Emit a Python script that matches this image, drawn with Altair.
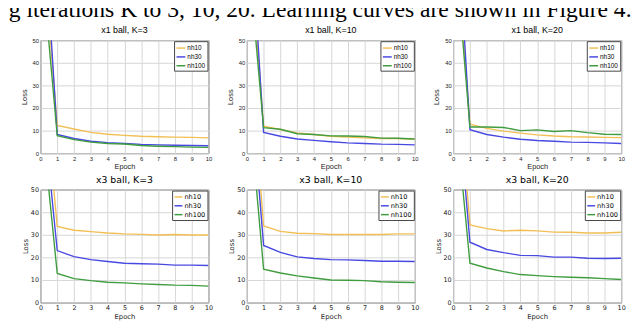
import altair as alt
import pandas as pd

epochs = [0, 1, 2, 3, 4, 5, 6, 7, 8, 9, 10]
series = ["nh10", "nh30", "nh100"]
colors = ["#f2bf55", "#4848e2", "#3f9c3f"]

# x1 ball
x1_k3 = {
    "nh10": [106, 12.3, 10.7, 9.2, 8.4, 7.9, 7.5, 7.3, 7.1, 7.0, 6.8],
    "nh30": [127, 8.3, 6.5, 5.3, 4.7, 4.3, 3.9, 3.7, 3.5, 3.4, 3.3],
    "nh100": [91, 7.8, 6.0, 4.9, 4.3, 4.1, 3.4, 3.1, 2.9, 2.7, 2.6],
}
x1_k10 = {
    "nh10": [110, 12.0, 10.5, 9.0, 8.3, 7.5, 7.2, 6.8, 6.5, 6.5, 6.1],
    "nh30": [129, 9.2, 7.5, 6.3, 5.7, 5.1, 4.6, 4.3, 4.0, 3.9, 3.7],
    "nh100": [95, 11.3, 10.6, 8.6, 8.3, 7.7, 7.6, 7.4, 6.7, 6.6, 6.3],
}
x1_k20 = {
    "nh10": [110, 12.8, 11.0, 9.8, 8.9, 8.1, 7.6, 7.3, 7.2, 7.0, 6.9],
    "nh30": [134, 10.4, 8.3, 7.1, 6.2, 5.6, 5.3, 4.9, 4.8, 4.6, 4.3],
    "nh100": [101, 11.6, 11.6, 11.4, 10.0, 10.3, 9.6, 10.0, 9.1, 8.4, 8.3],
}
# x3 ball
x3_k3 = {
    "nh10": [115, 33.7, 32.0, 31.4, 30.8, 30.4, 30.2, 29.9, 30.1, 29.9, 29.9],
    "nh30": [98, 23.0, 20.3, 19.0, 18.2, 17.4, 17.2, 17.0, 16.6, 16.6, 16.4],
    "nh100": [87, 12.9, 10.6, 9.7, 9.0, 8.7, 8.3, 8.0, 7.7, 7.6, 7.3],
}
x3_k10 = {
    "nh10": [129, 33.9, 31.5, 30.7, 30.5, 30.1, 30.1, 30.1, 30.1, 30.4, 30.4],
    "nh30": [117, 25.3, 22.2, 20.2, 19.5, 19.0, 18.9, 18.6, 18.3, 18.3, 18.2],
    "nh100": [99, 14.8, 13.1, 11.8, 10.9, 10.0, 9.9, 9.7, 9.2, 9.0, 8.9],
}
x3_k20 = {
    "nh10": [126, 34.4, 32.7, 31.7, 32.0, 31.7, 31.2, 31.1, 30.8, 30.8, 31.1],
    "nh30": [113, 26.7, 23.5, 22.1, 20.9, 20.8, 20.1, 20.1, 19.6, 19.5, 19.6],
    "nh100": [95, 17.4, 15.3, 13.7, 12.4, 11.9, 11.5, 11.2, 11.0, 10.6, 10.2],
}

x_ticks = [0, 1, 2, 3, 4, 5, 6, 7, 8, 9, 10]
y_ticks = [0, 10, 20, 30, 40, 50]

top_style = dict(font="Liberation Sans", title_size=9, label_size=6,
                 axis_title_size=7.5, legend_size=6.5, sym=81,
                 y_title_pad=4, x_title_pad=2)
bot_style = dict(font="DejaVu Sans", title_size=9.5, label_size=6.5,
                 axis_title_size=7, legend_size=6.7, sym=64,
                 y_title_pad=2, x_title_pad=2)


def panel(title, vals, st):
    rows = []
    for s in series:
        for e, v in zip(epochs, vals[s]):
            rows.append({"epoch": e, "loss": v, "series": s})
    df = pd.DataFrame(rows)
    legend = alt.Legend(
        orient="top-right", offset=1, title=None,
        strokeColor="#444444", fillColor="white", padding=1.5, cornerRadius=0,
        symbolType="stroke", symbolSize=st["sym"], symbolStrokeWidth=1.5,
        labelFont=st["font"], labelFontSize=st["legend_size"], labelColor="black",
        labelOffset=1, rowPadding=0,
    )
    xax = alt.Axis(values=x_ticks, title="Epoch", grid=True, ticks=False, domain=False,
                   labelFlush=False, labelOverlap=False, labelPadding=2,
                   labelFont=st["font"], labelFontSize=st["label_size"], labelColor="#222222",
                   titleFont=st["font"], titleFontSize=st["axis_title_size"],
                   titleFontWeight="normal", titleColor="#222222",
                   titlePadding=st["x_title_pad"], gridColor="#d6d6d6")
    yax = alt.Axis(values=y_ticks, title="Loss", grid=True, ticks=False, domain=False,
                   labelFlush=False, labelOverlap=False, labelPadding=2,
                   labelFont=st["font"], labelFontSize=st["label_size"], labelColor="#222222",
                   titleFont=st["font"], titleFontSize=st["axis_title_size"],
                   titleFontWeight="normal", titleColor="#222222",
                   titlePadding=st["y_title_pad"], gridColor="#d6d6d6")
    layers = []
    for s in series:
        layers.append(
            alt.Chart(df).transform_filter(alt.datum.series == s)
            .mark_line(clip=True, strokeWidth=1.4)
            .encode(
                x=alt.X("epoch:Q", scale=alt.Scale(domain=[0, 10], nice=False), axis=xax),
                y=alt.Y("loss:Q", scale=alt.Scale(domain=[0, 50], nice=False), axis=yax),
                color=alt.Color("series:N", scale=alt.Scale(domain=series, range=colors),
                                legend=legend),
            )
        )
    return alt.layer(*layers).properties(
        width=171, height=115,
        title=alt.TitleParams(title, font=st["font"], fontSize=st["title_size"],
                              fontWeight="normal", color="black", offset=2),
    )


panels = [
    panel("x1 ball, K=3", x1_k3, top_style),
    panel("x1 ball, K=10", x1_k10, top_style),
    panel("x1 ball, K=20", x1_k20, top_style),
    panel("x3 ball, K=3", x3_k3, bot_style),
    panel("x3 ball, K=10", x3_k10, bot_style),
    panel("x3 ball, K=20", x3_k20, bot_style),
]

chart = alt.concat(
    *panels, columns=3, spacing={"row": 37, "column": 39}, bounds="flush"
).resolve_legend(color="independent").properties(
    title=alt.TitleParams(
        "g iterations K to 3, 10, 20. Learning curves are shown in Figure 4.",
        anchor="start", frame="bounds", font="Liberation Serif", fontSize=24,
        fontWeight="normal", color="black", dx=-11, offset=4,
    ),
    padding={"left": 0, "top": -13, "right": 0, "bottom": 0},
).configure_view(stroke="#505050", strokeWidth=1)

chart.save("out.html", embed_options={"renderer": "svg", "actions": False})
